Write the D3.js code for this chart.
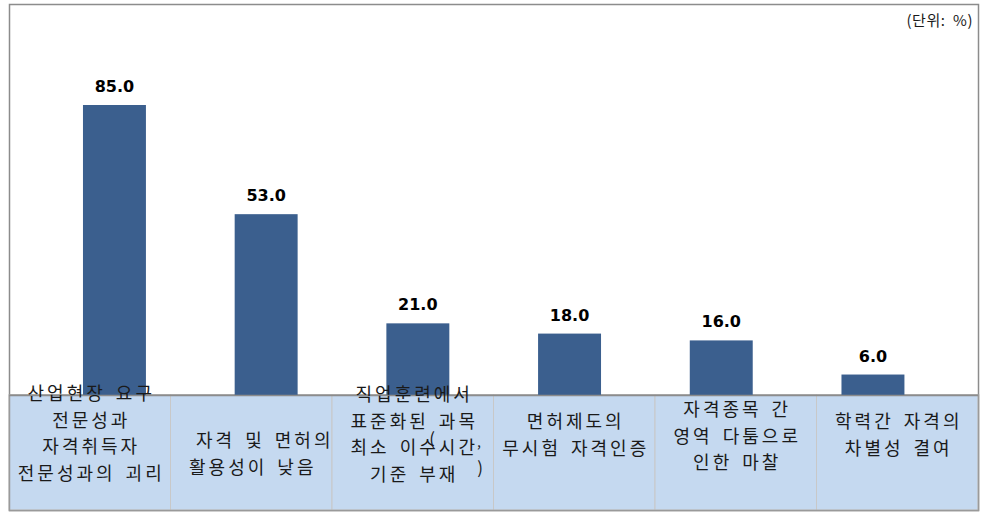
<!DOCTYPE html>
<html>
<head>
<meta charset="utf-8">
<script src="https://cdn.jsdelivr.net/npm/d3@7/dist/d3.min.js"></script>
<style>
  html, body { margin: 0; padding: 0; background: #fff; }
  svg { display: block; }
</style>
</head>
<body>
<svg id="chart" width="981" height="517"></svg>
<script>
// ---- data ----
const categories = ["c1", "c2", "c3", "c4", "c5", "c6"];
const values = [85.0, 53.0, 21.0, 18.0, 16.0, 6.0];
const categoryLines = [
  ["산업현장 요구", "전문성과", "자격취득자", "전문성과의 괴리"],
  ["자격 및 면허의", "활용성이 낮음"],
  ["직업훈련에서", "표준화된 과목", "최소 이수시간", "기준 부재"],
  ["면허제도의", "무시험 자격인증"],
  ["자격종목 간", "영역 다툼으로", "인한 마찰"],
  ["학력간 자격의", "차별성 결여"]
];
const unitLabel = "(단위:  %)";

// ---- layout (styling only) ----
const frame = { left: 9, top: 4, right: 978, bottom: 510 };
const baseY = 395;
const lineH = 26.5;
const cellStartY = [394, 441, 395, 422, 410, 422];
const lineDx = [[0,0,0,0],[12,0],[0,0,0,0],[0,0],[0,0,0],[0,0]];
const ls = 3;

const svg = d3.select("#chart");

const x = d3.scaleBand().domain(categories).range([38.6, 948.8])
  .paddingInner(0.585).paddingOuter(0.2925);
const y = d3.scaleLinear().domain([0, 85]).range([baseY, 105]);
const cellX = d3.scaleBand().domain(categories).range([frame.left, frame.right]).padding(0);

// outer frame
svg.append("rect")
  .attr("x", frame.left + 0.5).attr("y", frame.top + 0.5)
  .attr("width", frame.right - frame.left).attr("height", frame.bottom - frame.top)
  .attr("fill", "#fff").attr("stroke", "#8c8c8c").attr("stroke-width", 1.5);

// table cells
svg.append("g").selectAll("rect")
  .data(categories)
  .join("rect")
  .attr("x", d => cellX(d))
  .attr("y", baseY)
  .attr("width", cellX.bandwidth())
  .attr("height", frame.bottom - baseY)
  .attr("fill", "#c5d9f0")
  .attr("stroke", "#c8c8c8")
  .attr("stroke-width", 1);

// bottom/sides of table
svg.append("rect")
  .attr("x", frame.left + 0.5).attr("y", baseY)
  .attr("width", frame.right - frame.left).attr("height", frame.bottom - baseY + 0.5)
  .attr("fill", "none").attr("stroke", "#9a9a9a").attr("stroke-width", 1.5);

// bars
svg.append("g").selectAll("rect")
  .data(values)
  .join("rect")
  .attr("x", (d, i) => x(categories[i]))
  .attr("y", d => y(d))
  .attr("width", x.bandwidth())
  .attr("height", d => baseY - y(d))
  .attr("fill", "#3b5f8e");

// baseline
svg.append("line")
  .attr("x1", frame.left).attr("x2", frame.right)
  .attr("y1", baseY + 0.5).attr("y2", baseY + 0.5)
  .attr("stroke", "#8c8c8c").attr("stroke-width", 1.5);

// value labels
svg.append("g").selectAll("text")
  .data(values)
  .join("text")
  .attr("x", (d, i) => x(categories[i]) + x.bandwidth() / 2)
  .attr("y", d => y(d) - 13)
  .attr("text-anchor", "middle")
  .attr("font-family", "DejaVu Sans, Verdana, sans-serif")
  .attr("font-weight", "bold")
  .attr("font-size", 16)
  .attr("fill", "#000")
  .text(d => d.toFixed(1));

// category text
const tg = svg.append("g")
  .attr("font-family", "'Noto Sans CJK KR', sans-serif")
  .attr("font-size", 18)
  .attr("fill", "#1a1a1a")
  .attr("text-anchor", "middle");

categoryLines.forEach((lines, i) => {
  const cx = cellX(categories[i]) + cellX.bandwidth() / 2;
  lines.forEach((ln, j) => {
    tg.append("text")
      .attr("x", cx + lineDx[i][j] + ls / 2)
      .attr("y", cellStartY[i] + j * lineH)
      .attr("dy", "0.36em")
      .attr("letter-spacing", ls)
      .attr("word-spacing", 3)
      .text(ln);
  });
});

// stray punctuation in the third cell
const c3 = cellX(categories[2]);
tg.append("text").attr("x", c3 + 100).attr("y", 445).attr("font-size", 17).text("(");
tg.append("text").attr("x", c3 + 147).attr("y", 447).attr("font-size", 14).text(",");
tg.append("text").attr("x", c3 + 148).attr("y", 474).attr("font-size", 17).text(")");

// unit label
svg.append("text")
  .attr("x", 973).attr("y", 26)
  .attr("text-anchor", "end")
  .attr("font-family", "'Noto Sans CJK KR', sans-serif")
  .attr("font-size", 15)
  .attr("letter-spacing", 0.5)
  .attr("fill", "#1a1a1a")
  .style("white-space", "pre")
  .text(unitLabel);
</script>
</body>
</html>
